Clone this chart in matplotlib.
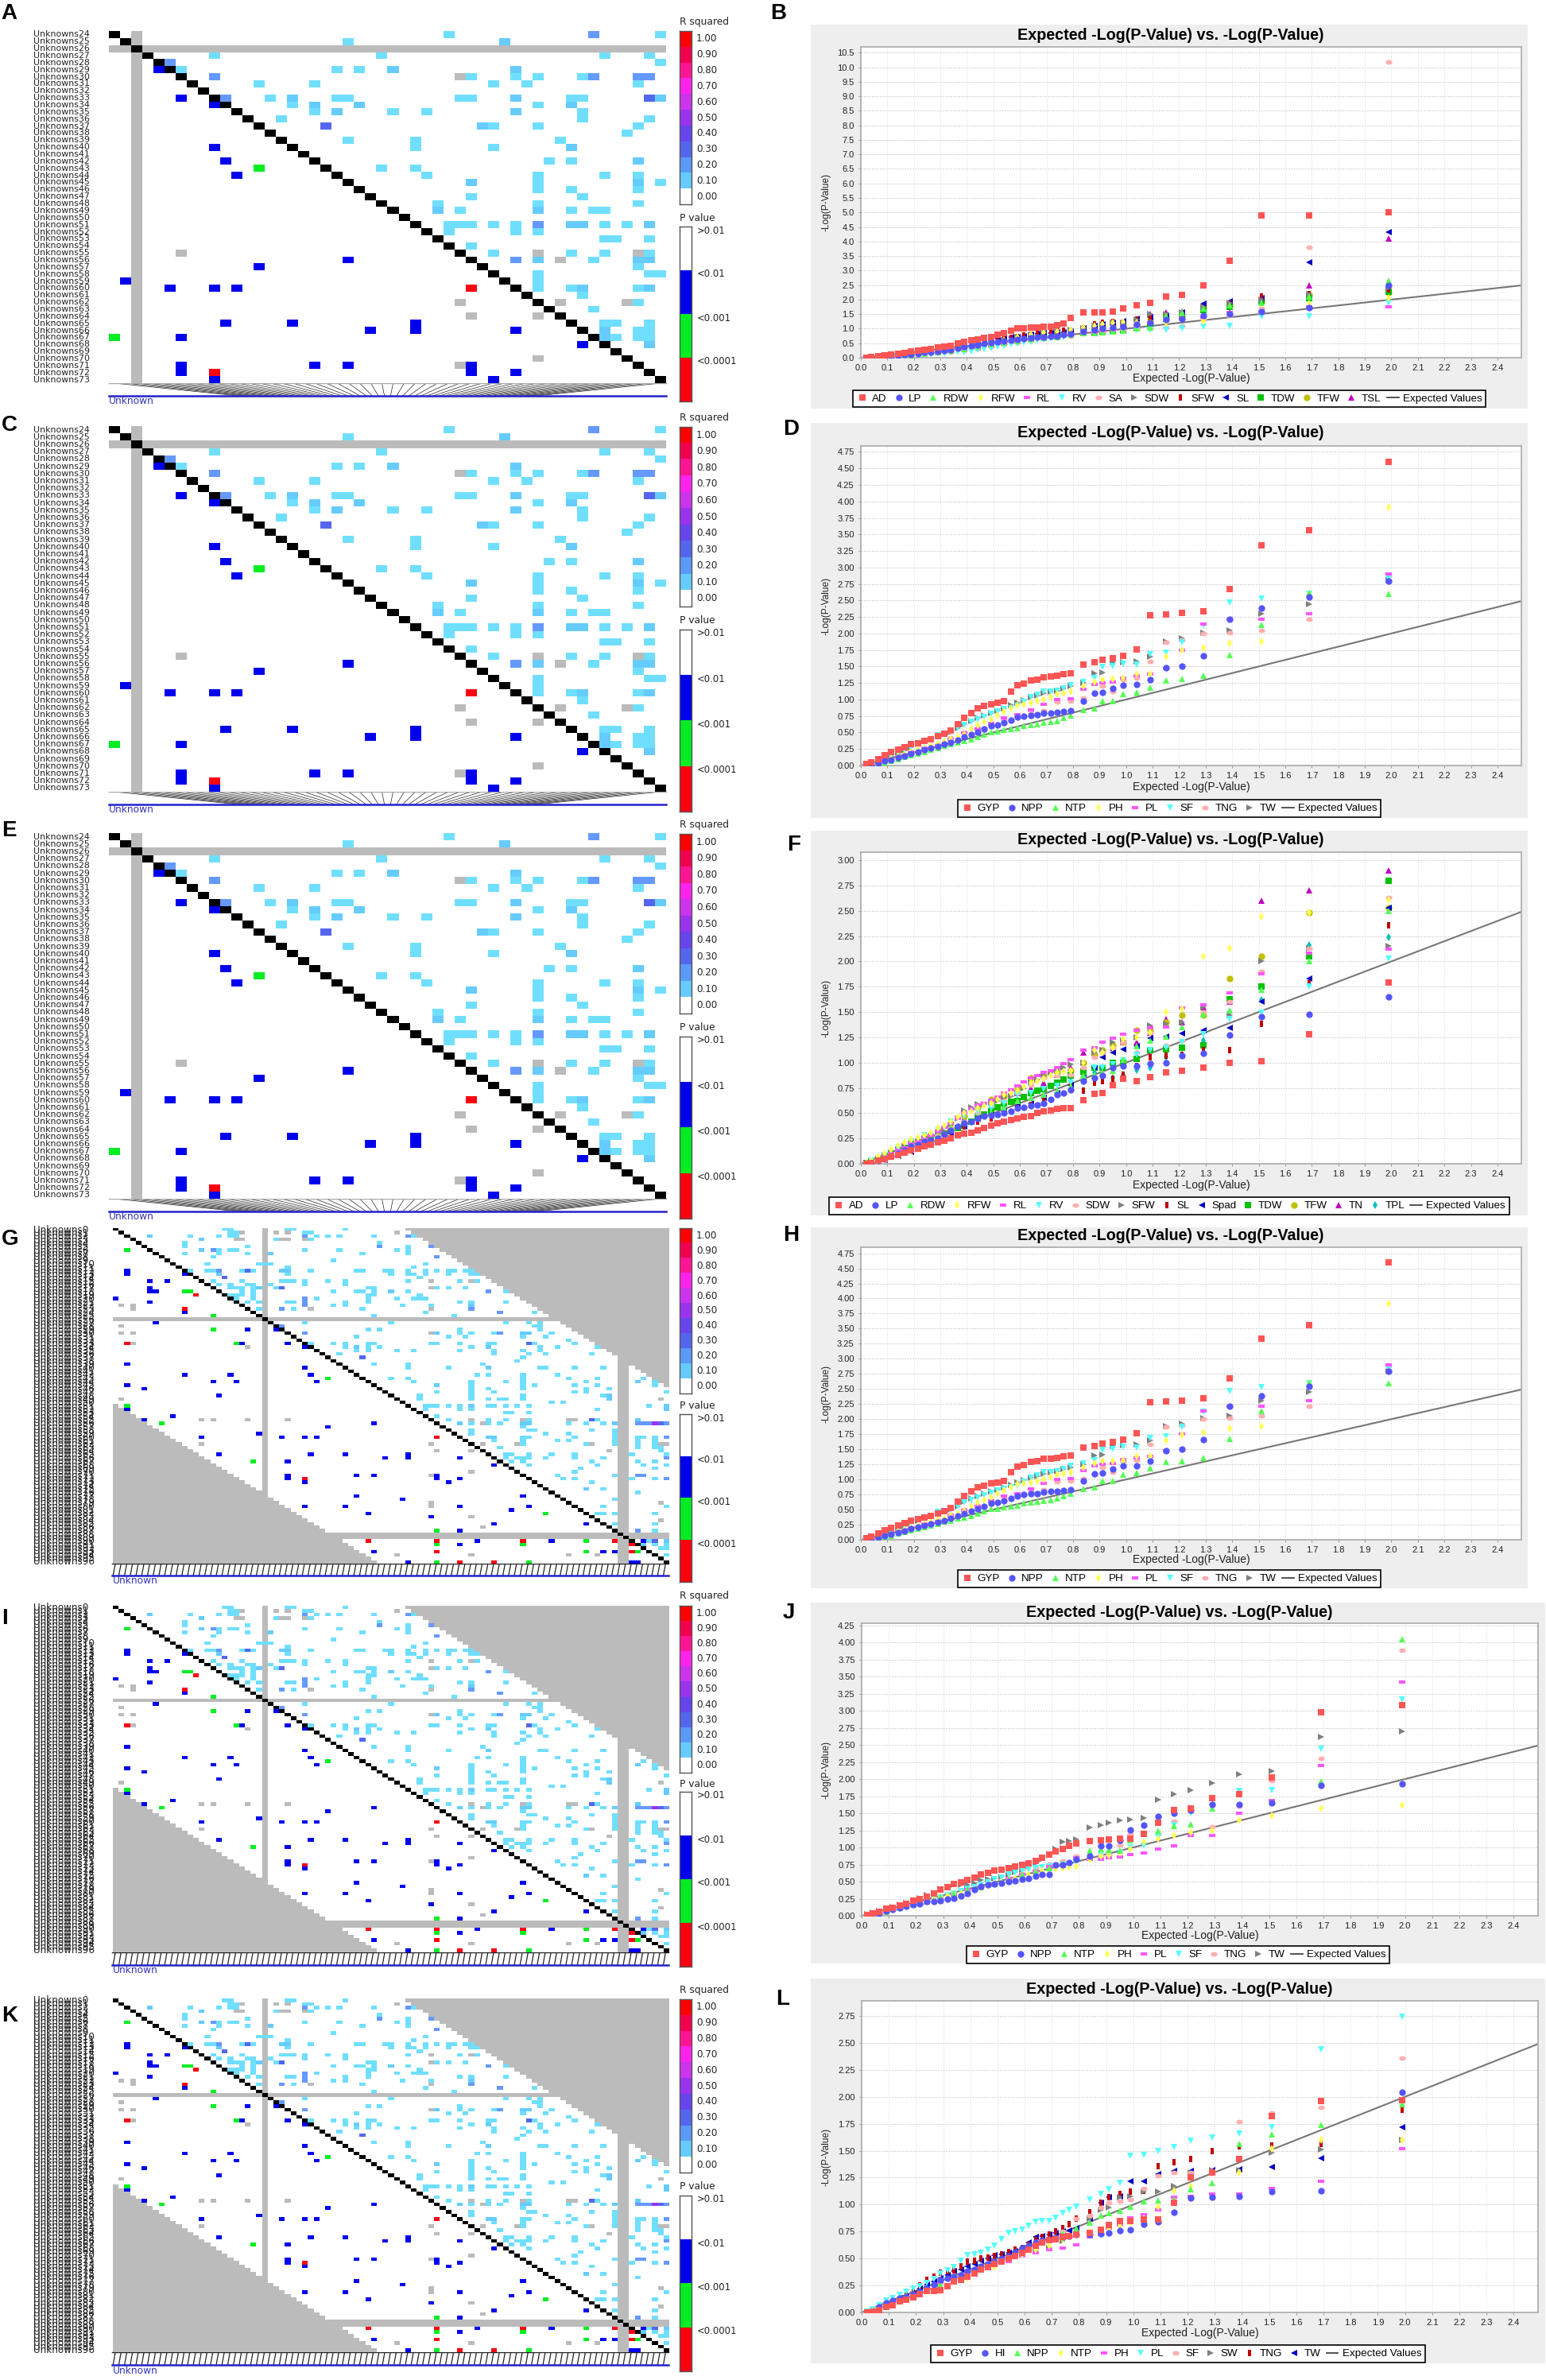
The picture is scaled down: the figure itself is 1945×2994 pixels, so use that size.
import numpy as np
import matplotlib
matplotlib.use('Agg')
import matplotlib.pyplot as plt
from matplotlib.colors import ListedColormap
from matplotlib.markers import MarkerStyle
from matplotlib.transforms import Affine2D

W, H = 1945, 2994

# expected -log(p), same ranks for every QQ panel
expected = [1.99, 1.69, 1.51, 1.39, 1.29, 1.21, 1.15, 1.09, 1.04, 0.99, 0.95, 0.91, 0.88, 0.84, 0.79,
            0.74, 0.69, 0.64, 0.59, 0.54, 0.49, 0.44, 0.39, 0.34, 0.29, 0.24, 0.19, 0.14, 0.09, 0.04]
# extra ranks in the crowded low end, read only for the series that show there
expected_mid = [0.765, 0.715, 0.665, 0.615, 0.565, 0.515, 0.465, 0.415, 0.365, 0.315, 0.265, 0.215, 0.165, 0.115, 0.065, 0.02]

panel_b = {
    'AD': [5.02, 4.9, 4.9, 3.35, 2.5, 2.15, 2.1, 1.9, 1.8, 1.7, 1.58, 1.57, 1.55, 1.55, 1.36, 1.12, 1.08, 1.03, 1.0, .85, .72, .64, .55, .42, .35, .28, .22, .13, .07, .02],
    'LP': [2.5, 1.72, 1.58, 1.5, 1.45, 1.33, 1.3, 1.2, 1.15, 1.08, 1.05, 1.0, .95, .9, .82, .75, .72, .68, .63, .58, .52, .45, .37, .28, .23, .18, .12, .08, .04, .01],
    'RDW': [2.65, 2.1, 1.9, 1.8, 1.7, 1.55, 1.45, 1.05, 1.0, .92, .9, .88, .85, .85, .8, .72, .68, .62, .58, .52, .46, .38, .3, .25, .2, .15, .08, .03, 0, 0],
    'RFW': [2.05, 1.85, 1.6, 1.45, 1.25, 1.4, 1.2, 1.2, 1.2, 1.22, 1.2, 1.15, 1.1, 1.03, .95, .9, .87, .8, .72, .6, .55, .45, .35, .3, .25, .18, .13, .1, .05, .02],
    'RL': [1.75, 1.75, 1.6, 1.55, 1.4, 1.35, 1.3, 1.2, 1.1, 1.05, .95, .92, .88, .85, .78, .72, .66, .6, .55, .5, .42, .35, .28, .22, .18, .13, .08, .05, .02, 0],
    'RV': [1.9, 1.42, 1.42, 1.1, 1.07, 1.02, .97, .95, .95, .93, .9, .88, .85, .82, .76, .68, .63, .55, .5, .42, .34, .26, .2, .18, .13, .1, .06, .02, 0, 0],
    'SA': [10.17, 3.8, 1.7, 1.45, 1.3, 1.1, 1.05, 1.0, 1.0, .95, .95, .9, .88, .85, .75, .7, .65, .6, .52, .47, .38, .3, .25, .2, .16, .12, .08, .05, .02, .01],
    'SDW': [2.4, 2.2, 2.0, 1.9, 1.75, 1.55, 1.5, 1.5, 1.3, 1.2, 1.2, 1.15, 1.1, 1.0, .95, .9, .85, .78, .7, .6, .53, .47, .38, .33, .28, .22, .17, .12, .06, .02],
    'SFW': [2.35, 2.2, 2.1, 1.85, 1.7, 1.5, 1.45, 1.4, 1.3, 1.2, 1.22, 1.2, 1.15, 1.0, .93, .9, .88, .8, .72, .65, .6, .55, .48, .4, .3, .22, .17, .12, .06, .02],
    'SL': [4.33, 3.28, 2.05, 1.95, 1.85, 1.55, 1.45, 1.4, 1.35, 1.25, 1.2, 1.15, 1.1, 1.0, .9, .87, .85, .78, .72, .68, .62, .58, .55, .42, .3, .23, .2, .12, .06, .02],
    'TDW': [2.28, 2.05, 1.95, 1.75, 1.65, 1.5, 1.35, 1.1, 1.0, .95, .92, .9, .88, .85, .8, .75, .72, .65, .6, .52, .46, .4, .32, .27, .23, .18, .13, .1, .05, .01],
    'TFW': [2.25, 2.15, 1.95, 1.8, 1.75, 1.45, 1.4, 1.3, 1.15, 1.15, 1.15, 1.1, 1.05, .95, .9, .85, .8, .73, .67, .6, .55, .47, .38, .33, .27, .21, .16, .11, .05, .02],
    'TSL': [4.1, 2.5, 2.1, 1.55, 1.48, 1.6, 1.55, 1.5, 1.2, 1.1, 1.1, 1.05, 1.0, .93, .88, .85, .8, .75, .7, .62, .55, .5, .42, .35, .3, .24, .18, .12, .06, .02],
}
mid_b = {
    'AD': [1.18, 1.08, 1.05, 1.02, .93, .78, .68, .6, .48, .38, .31, .25, .17, .1, .05, .01],
    'LP': [.78, .73, .7, .65, .6, .55, .48, .41, .32, .25, .2, .15, .1, .06, .02, 0],
    'RV': [.72, .65, .59, .52, .46, .38, .3, .23, .19, .15, .11, .08, .04, .01, 0, 0],
    'SFW': [.92, .89, .84, .76, .68, .62, .57, .52, .44, .35, .26, .2, .14, .09, .04, .01],
    'SL': [.88, .86, .82, .75, .7, .65, .6, .57, .48, .36, .27, .21, .16, .09, .04, .01],
}

panel_d = {
    'GYP': [4.6, 3.56, 3.33, 2.67, 2.34, 2.31, 2.29, 2.28, 1.76, 1.66, 1.62, 1.6, 1.56, 1.53, 1.4, 1.36, 1.34, 1.29, 1.21, .98, .93, .87, .72, .53, .44, .37, .32, .24, .16, .05],
    'NPP': [2.79, 2.55, 2.38, 2.22, 1.66, 1.5, 1.48, 1.3, 1.23, 1.22, 1.17, 1.11, 1.1, .98, .83, .81, .79, .76, .73, .65, .6, .51, .43, .35, .29, .24, .18, .12, .07, .01],
    'NTP': [2.6, 2.61, 2.13, 1.67, 1.36, 1.31, 1.29, 1.18, 1.11, 1.08, .98, .98, .87, .84, .76, .68, .65, .62, .57, .54, .51, .43, .37, .32, .27, .21, .16, .1, .05, 0],
    'PH': [3.91, 2.6, 1.88, 1.85, 1.78, 1.74, 1.65, 1.39, 1.38, 1.32, 1.31, 1.3, 1.27, 1.2, 1.12, 1.08, 1.0, .95, .92, .82, .7, .62, .47, .4, .33, .27, .21, .14, .08, .02],
    'PL': [2.9, 2.3, 2.22, 2.22, 2.14, 1.75, 1.47, 1.39, 1.36, 1.33, 1.27, 1.25, 1.23, 1.15, 1.01, 1.0, .93, .84, .77, .72, .64, .55, .49, .4, .3, .26, .2, .13, .08, .02],
    'SF': [2.83, 2.6, 2.53, 2.47, 2.12, 1.87, 1.71, 1.69, 1.53, 1.54, 1.5, 1.49, 1.32, 1.27, 1.22, 1.13, 1.12, 1.03, .9, .85, .78, .7, .62, .5, .46, .35, .27, .19, .11, .04],
    'TNG': [2.88, 2.21, 2.05, 2.01, 2.0, 1.9, 1.87, 1.58, 1.32, 1.3, 1.12, 1.2, 1.1, 1.02, .97, .96, .83, .8, .74, .7, .6, .57, .5, .42, .33, .27, .2, .13, .08, .02],
    'TW': [2.8, 2.45, 2.3, 2.05, 2.01, 1.93, 1.88, 1.65, 1.58, 1.57, 1.56, 1.41, 1.4, 1.25, 1.2, 1.13, 1.1, 1.03, .95, .87, .8, .72, .63, .5, .44, .37, .28, .18, .1, .03],
}
mid_d = {
    'GYP': [1.38, 1.35, 1.3, 1.24, 1.12, .95, .9, .8, .63, .48, .4, .34, .28, .2, .1, .02],
    'NPP': [.82, .8, .77, .75, .69, .62, .55, .47, .39, .32, .27, .21, .15, .09, .04, 0],
    'NTP': [.72, .66, .63, .6, .55, .52, .47, .4, .35, .3, .24, .18, .13, .07, .02, 0],
    'PH': [1.1, 1.04, .98, .93, .87, .76, .66, .55, .43, .36, .3, .24, .17, .11, .05, .01],
    'SF': [1.17, 1.12, 1.07, .96, .87, .82, .74, .66, .56, .48, .4, .31, .23, .15, .07, .01],
    'TW': [1.17, 1.12, 1.06, .99, .91, .83, .76, .68, .56, .47, .4, .32, .23, .14, .06, .01],
}

panel_f = {
    'AD': [1.79, 1.28, 1.01, 1.0, .95, .92, .9, .86, .82, .84, .78, .7, .69, .63, .55, .54, .52, .47, .45, .42, .38, .33, .3, .25, .21, .17, .13, .09, .05, .01],
    'LP': [1.65, 1.48, 1.45, 1.27, 1.09, 1.07, 1.0, .99, .97, .97, .95, .87, .85, .82, .73, .68, .6, .57, .55, .5, .48, .45, .4, .33, .25, .22, .17, .1, .05, .01],
    'RDW': [2.5, 2.0, 1.72, 1.52, 1.48, 1.35, 1.26, 1.22, 1.16, 1.03, .92, .9, .88, .87, .77, .72, .68, .65, .62, .56, .5, .46, .42, .35, .27, .21, .16, .11, .06, .01],
    'RFW': [2.61, 2.48, 2.44, 2.13, 2.05, 1.53, 1.5, 1.3, 1.25, 1.23, 1.15, 1.1, 1.12, 1.0, .92, .9, .84, .8, .72, .68, .6, .55, .5, .42, .35, .28, .24, .18, .1, .03],
    'RL': [2.12, 2.08, 1.88, 1.69, 1.57, 1.54, 1.35, 1.34, 1.32, 1.28, 1.24, 1.2, 1.15, 1.12, 1.03, .95, .9, .85, .77, .7, .63, .58, .5, .4, .32, .25, .2, .13, .07, .02],
    'RV': [2.03, 1.75, 1.49, 1.43, 1.28, 1.2, 1.15, 1.12, 1.08, 1.02, .98, .95, .95, .83, .8, .77, .74, .7, .68, .6, .55, .52, .47, .42, .33, .28, .22, .15, .09, .03],
    'SDW': [2.63, 2.13, 1.9, 1.6, 1.5, 1.22, 1.17, 1.3, 1.1, 1.2, 1.15, 1.1, 1.05, .95, .88, .87, .85, .78, .7, .62, .57, .5, .42, .35, .28, .22, .18, .12, .06, .02],
    'SFW': [2.15, 2.13, 2.0, 1.47, 1.55, 1.4, 1.38, 1.37, 1.25, 1.22, 1.2, 1.12, 1.1, 1.0, .98, .93, .87, .8, .7, .65, .6, .59, .53, .37, .28, .25, .2, .14, .08, .02],
    'SL': [2.36, 1.78, 1.38, 1.12, 1.12, 1.08, 1.07, 1.05, .97, .88, .84, .82, .8, .72, .78, .7, .65, .58, .55, .5, .45, .42, .37, .32, .27, .22, .17, .12, .07, .02],
    'Spad': [2.53, 1.83, 1.6, 1.34, 1.32, 1.29, 1.26, 1.24, 1.16, 1.13, 1.1, 1.05, .95, .85, .78, .7, .65, .6, .57, .52, .48, .45, .37, .3, .22, .17, .12, .08, .04, 0],
    'TDW': [2.8, 2.05, 1.75, 1.63, 1.17, 1.15, 1.13, 1.12, 1.04, 1.0, 1.0, .95, .95, .91, .87, .8, .74, .7, .62, .6, .52, .47, .38, .33, .28, .24, .19, .13, .07, .02],
    'TFW': [2.53, 2.48, 2.05, 1.83, 1.47, 1.47, 1.4, 1.32, 1.32, 1.2, 1.17, 1.12, 1.08, 1.0, .92, .9, .87, .85, .75, .67, .64, .55, .47, .4, .33, .27, .22, .15, .09, .02],
    'TN': [2.9, 2.7, 2.6, 1.6, 1.55, 1.4, 1.43, 1.3, 1.2, 1.2, 1.15, 1.12, 1.1, 1.1, .95, .88, .8, .75, .7, .62, .57, .5, .45, .37, .3, .24, .2, .14, .08, .02],
    'TPL': [2.24, 2.16, 1.62, 1.5, 1.22, 1.15, 1.05, .95, .93, .88, .85, .95, .9, .88, .82, .7, .72, .68, .63, .55, .5, .47, .42, .36, .3, .25, .2, .13, .06, .01],
}
mid_f = {
    'AD': [.55, .53, .5, .46, .43, .4, .35, .31, .28, .23, .19, .15, .11, .07, .03, 0],
    'LP': [.7, .64, .58, .56, .52, .49, .47, .42, .37, .29, .23, .19, .13, .08, .03, 0],
    'RFW': [.91, .87, .82, .76, .7, .64, .57, .52, .46, .38, .31, .26, .21, .14, .07, .01],
    'RL': [.99, .92, .87, .81, .73, .66, .6, .54, .45, .36, .28, .22, .16, .1, .04, .01],
    'SFW': [.95, .9, .83, .75, .67, .62, .59, .56, .45, .32, .26, .22, .17, .11, .05, .01],
    'TDW': [.83, .77, .72, .66, .61, .56, .49, .42, .35, .3, .26, .21, .16, .1, .04, .01],
}

panel_j = {
    'GYP': [3.08, 2.98, 2.02, 1.78, 1.72, 1.57, 1.55, 1.36, 1.2, 1.13, 1.13, 1.12, 1.1, 1.09, 1.06, .98, .9, .8, .75, .7, .66, .6, .52, .47, .38, .28, .22, .15, .1, .03],
    'NPP': [1.93, 1.91, 1.65, 1.63, 1.63, 1.55, 1.5, 1.45, 1.33, 1.26, 1.1, 1.02, 1.02, .87, .83, .75, .61, .58, .53, .5, .47, .43, .32, .26, .22, .21, .16, .12, .07, 0],
    'NTP': [4.05, 1.97, 1.66, 1.8, 1.57, 1.34, 1.32, 1.25, 1.2, 1.1, .95, .97, .98, .95, .83, .77, .7, .65, .6, .54, .47, .42, .38, .32, .28, .22, .16, .12, .06, .01],
    'PH': [1.62, 1.57, 1.46, 1.39, 1.24, 1.22, 1.18, 1.13, 1.08, .98, .92, .88, .87, .83, .72, .7, .68, .63, .58, .52, .47, .41, .36, .31, .27, .21, .16, .12, .06, .01],
    'PL': [3.42, 2.2, 1.69, 1.5, 1.17, 1.17, 1.02, .98, .92, .9, .86, .85, .82, .82, .85, .75, .72, .65, .6, .55, .47, .4, .38, .3, .25, .19, .15, .11, .06, .01],
    'SF': [3.16, 2.44, 1.84, 1.83, 1.7, 1.5, 1.33, 1.15, 1.02, 1.0, .92, .9, .88, .85, .78, .75, .72, .7, .66, .6, .53, .45, .4, .32, .27, .2, .15, .11, .06, .01],
    'TNG': [3.88, 2.3, 1.98, 1.6, 1.3, 1.52, 1.38, 1.2, 1.22, 1.2, 1.04, .9, .88, .85, .87, .8, .76, .7, .62, .55, .48, .43, .37, .34, .28, .22, .16, .11, .06, .01],
    'TW': [2.7, 2.62, 2.12, 2.07, 1.94, 1.84, 1.78, 1.7, 1.43, 1.41, 1.39, 1.36, 1.33, 1.29, 1.12, 1.08, .88, .77, .68, .6, .55, .52, .45, .45, .39, .3, .22, .16, .1, .05],
}
mid_j = {
    'GYP': [1.02, .94, .85, .77, .72, .68, .63, .56, .49, .42, .33, .25, .18, .12, .06, .01],
    'NPP': [.78, .74, .6, .55, .51, .48, .45, .38, .29, .24, .21, .18, .14, .09, .03, 0],
    'PH': [.71, .69, .66, .6, .55, .49, .44, .38, .33, .29, .24, .18, .14, .09, .03, 0],
    'SF': [.76, .73, .71, .68, .63, .56, .49, .42, .36, .3, .23, .17, .13, .08, .03, 0],
    'TW': [1.09, .98, .82, .72, .64, .57, .53, .48, .45, .42, .34, .26, .19, .13, .07, .02],
}

panel_l = {
    'GYP': [1.97, 1.96, 1.82, 1.42, 1.3, 1.25, 1.02, .86, .86, .85, .85, .81, .77, .74, .72, .7, .67, .62, .55, .5, .45, .4, .33, .29, .21, .2, .14, .1, .05, .01],
    'HI': [2.04, 1.13, 1.12, 1.08, 1.07, 1.06, .93, .84, .82, .77, .76, .74, .73, .72, .72, .7, .68, .65, .6, .52, .47, .43, .38, .33, .3, .22, .17, .13, .09, .01],
    'NPP': [1.93, 1.74, 1.65, 1.56, 1.2, 1.14, 1.05, 1.04, 1.03, .98, .94, .92, .9, .83, .78, .73, .68, .63, .55, .5, .47, .42, .38, .3, .26, .2, .16, .12, .07, .01],
    'NTP': [1.6, 1.6, 1.52, 1.3, 1.3, 1.17, 1.13, .98, .87, .83, .8, .78, .77, .75, .72, .68, .62, .58, .54, .5, .42, .4, .32, .3, .25, .2, .16, .1, .05, .01],
    'PH': [1.52, 1.22, 1.15, 1.1, 1.1, 1.08, 1.07, .95, .91, .88, .81, .78, .72, .7, .63, .6, .58, .55, .52, .47, .45, .4, .36, .32, .28, .21, .16, .12, .05, .01],
    'PL': [2.74, 2.44, 1.72, 1.66, 1.62, 1.59, 1.53, 1.5, 1.46, 1.45, 1.2, 1.14, 1.1, 1.05, .98, .92, .85, .84, .77, .74, .62, .55, .53, .42, .36, .27, .22, .16, .11, .03],
    'SF': [2.36, 1.9, 1.85, 1.77, 1.3, 1.3, 1.3, 1.27, 1.15, 1.05, 1.03, 1.02, .97, .9, .87, .75, .68, .6, .55, .52, .45, .4, .38, .34, .28, .22, .17, .12, .06, .01],
    'SW': [1.6, 1.51, 1.48, 1.32, 1.32, 1.3, 1.17, 1.12, 1.12, 1.08, 1.07, .97, .95, .87, .72, .66, .6, .57, .55, .5, .48, .42, .37, .33, .26, .22, .17, .12, .07, .01],
    'TNG': [1.88, 1.56, 1.55, 1.54, 1.5, 1.42, 1.39, 1.36, 1.13, 1.12, 1.1, 1.07, 1.02, .93, .87, .78, .72, .67, .6, .56, .52, .5, .47, .39, .37, .3, .2, .12, .07, .01],
    'TW': [1.72, 1.43, 1.35, 1.33, 1.32, 1.31, 1.31, 1.28, 1.22, 1.22, 1.08, 1.07, 1.02, .87, .78, .75, .72, .7, .6, .55, .53, .48, .43, .38, .32, .26, .18, .13, .07, .01],
}
mid_l = {
    'GYP': [.71, .68, .65, .58, .52, .47, .42, .36, .3, .24, .2, .17, .12, .07, .02, 0],
    'HI': [.71, .69, .67, .62, .56, .5, .45, .4, .35, .32, .26, .19, .15, .11, .05, 0],
    'PL': [.95, .88, .85, .8, .75, .68, .58, .54, .48, .39, .31, .24, .19, .13, .07, .01],
    'TNG': [.82, .75, .7, .63, .58, .54, .51, .48, .43, .38, .33, .25, .16, .09, .04, 0],
    'TW': [.76, .74, .71, .65, .57, .54, .5, .45, .4, .35, .29, .22, .15, .1, .04, 0],
}

# LD matrix A/C/E, row: [columns] for each colour class
a_r10 = {0: [30, 49], 1: [21], 3: [9, 24, 44, 48], 4: [49], 5: [6, 20, 22], 6: [32, 36, 38, 42], 7: [13, 18, 34, 37, 47],
         9: [14, 20, 21, 31, 32, 41, 42], 10: [16, 38], 11: [18, 25, 28, 42], 12: [15, 42, 48], 13: [34, 38, 47], 14: [46],
         15: [21, 27, 40], 16: [27, 34], 18: [39, 41], 19: [24, 27], 20: [28, 38, 44, 47], 21: [38, 49], 22: [38, 41, 47],
         23: [32, 42], 24: [29, 38, 47], 25: [31, 41, 43, 44], 27: [30, 31, 32, 34, 36, 44, 46], 28: [30, 36, 38],
         29: [44, 45, 48], 30: [32], 31: [34, 41, 44, 48], 32: [43], 33: [47], 34: [38, 48, 49], 35: [38], 36: [38, 41, 47],
         37: [42], 38: [47], 39: [43], 41: [44, 45, 48], 42: [47, 48], 43: [45, 47, 48]}
a_r15 = {1: [35], 5: [25, 36], 9: [16, 36, 49], 10: [18, 22, 41], 11: [20, 36], 13: [33], 16: [41], 18: [47], 21: [32, 47],
         25: [29, 38], 27: [41, 42, 48], 32: [38, 47, 48], 36: [42, 48], 42: [44], 43: [44], 44: [48]}
a_r20 = {0: [43], 4: [5], 6: [9, 43, 47, 48], 9: [10], 27: [38], 32: [36]}
a_r30 = {9: [48], 13: [19]}
a_blue = {5: [4], 9: [6], 10: [9], 16: [9], 18: [10], 20: [11], 32: [21], 33: [13], 35: [1], 36: [5, 9, 11], 41: [10, 16, 27],
          42: [23, 27, 36], 43: [6], 44: [42], 47: [6, 18, 21, 32], 48: [6, 32, 36], 49: [9, 34]}
a_green = {19: [13], 43: [0]}
a_red = {36: [32], 48: [9]}
a_gray = {6: [31], 31: [6, 38, 47], 32: [40], 38: [31, 40, 46], 40: [32, 38], 46: [38], 47: [31]}

# LD matrix G/I/K
g_r10 = {0: [19, 20, 30, 31, 40], 1: [20, 21, 33, 34], 2: [13, 18, 20, 21, 35, 37, 39, 45, 52], 3: [28, 34], 4: [12, 46], 5: [12, 23, 51],
         6: [18, 20, 21, 33, 39, 49, 51], 7: [12, 18, 23, 43, 51], 8: [17], 9: [38], 10: [16, 25, 26, 27, 54], 11: [30, 52],
         12: [13, 16, 17, 22, 24, 34, 42, 43, 47, 48, 51, 54, 56, 58, 59, 61, 62], 13: [13, 30, 48, 51, 52, 54, 58, 62, 63], 14: [53],
         15: [17, 22, 29, 30, 31, 33, 37, 40, 51, 60, 63], 16: [18, 20, 23, 24, 27, 33, 40], 17: [20, 21, 22, 24, 28, 44, 45, 56, 58, 61],
         18: [22, 24, 38, 42, 43, 45, 51, 68], 19: [20, 21, 22, 24, 44, 45, 53], 20: [21, 24, 35, 44, 49, 52, 53, 54],
         21: [23, 25, 30, 31, 40, 44, 60, 62, 68], 22: [38, 40, 50, 55], 23: [25, 31, 43], 24: [54, 73], 25: [45, 59], 27: [33, 48, 68, 72, 74],
         28: [73, 74], 29: [44, 46, 60, 74], 30: [60, 62, 66, 76], 31: [42, 58, 61, 71, 75], 32: [79],
         33: [34, 38, 40, 44, 45, 55, 56, 60, 65, 66, 73, 80], 34: [34, 40, 44, 46, 62, 74, 77, 84], 35: [42, 44, 49, 52, 60, 66, 71, 74],
         36: [39, 66, 72, 75, 83], 37: [71], 38: [70], 39: [45, 51, 64], 40: [51, 58, 74, 75, 80, 85], 42: [63, 65, 71, 77],
         43: [48, 51, 71, 79, 84, 92], 44: [52, 62, 68, 71, 82, 94], 45: [62, 71, 73, 80, 84, 94], 46: [62, 65, 71, 82, 86],
         47: [56, 62, 66, 80, 82, 96], 48: [53, 62, 71, 85], 49: [53, 62, 65, 67, 68, 71], 50: [76, 78],
         51: [54, 55, 56, 58, 60, 65, 66, 68, 70, 72, 93], 52: [54, 60, 62, 84], 53: [68, 69, 72], 54: [56], 55: [58, 65, 68, 71, 72, 84, 91],
         56: [62, 65, 67, 79, 82, 85], 57: [71], 58: [62, 72, 73, 83, 87], 59: [62, 75, 79, 87], 60: [71, 72, 80, 87, 91, 92, 94],
         61: [66, 71, 77, 79, 87, 91, 94], 62: [71, 82, 87, 91, 94], 63: [67, 91, 94, 95], 64: [95], 65: [68, 69, 72, 76, 80, 90, 96],
         66: [68, 70, 71, 72, 75, 80, 85], 67: [69, 71, 83, 91, 94], 68: [72, 84, 92, 96], 69: [81, 94], 70: [80], 71: [77, 87],
         72: [78, 80, 90, 94], 73: [83], 75: [85], 76: [91], 78: [87], 80: [85, 96], 82: [84, 85, 87, 94], 85: [87, 94], 87: [94],
         90: [93], 91: [94, 96], 92: [95, 96], 94: [96]}
g_r15 = {2: [6], 3: [15], 6: [15], 7: [27], 12: [29, 30], 13: [18], 17: [25], 18: [48], 22: [62], 30: [56, 71, 72], 34: [42, 65], 40: [65],
         44: [91], 45: [56], 48: [86], 49: [86], 51: [62, 96], 52: [96], 55: [91], 56: [60, 71, 72, 87], 60: [65, 66],
         75: [82], 90: [96], 91: [92]}
g_r20 = {2: [33, 51], 5: [46, 55], 6: [17], 8: [56], 12: [18], 18: [65], 20: [33], 21: [33], 22: [33], 23: [29, 62], 24: [67], 28: [29],
         30: [33, 67], 56: [91, 92, 93, 96], 60: [96], 66: [96], 71: [91, 92], 72: [96], 87: [91]}
g_r30 = {12: [23], 14: [19], 17: [29], 33: [72], 37: [43], 55: [83], 56: [95], 90: [94]}
g_r50 = {56: [94]}
g_blue = {12: [2, 12], 13: [2, 12], 15: [6, 9], 17: [6], 18: [6, 7], 20: [0], 21: [6], 24: [12], 27: [7], 29: [23, 28], 33: [22, 30], 34: [33],
          39: [2], 40: [33], 42: [12, 20, 34], 44: [17, 21, 35], 45: [2], 46: [5], 48: [18], 52: [2], 54: [10], 55: [5], 56: [45], 57: [37],
          59: [25], 60: [15, 29, 33, 35], 65: [18, 34, 40, 51], 66: [47, 51, 60], 67: [30], 68: [66], 71: [30, 42, 45, 56], 72: [30, 56, 60],
          73: [33, 58], 77: [42, 71], 78: [50], 80: [33, 40, 60, 72], 81: [69], 82: [44], 83: [55], 85: [66, 82], 87: [60], 90: [63, 76, 92],
          91: [60], 93: [45, 85, 87], 96: [51, 90, 91]}
g_green = {6: [2], 18: [12, 13], 25: [17], 29: [17], 33: [21], 43: [37], 51: [2], 56: [8], 67: [24], 82: [75], 87: [56], 90: [82],
           91: [56, 71], 93: [82, 91], 96: [56, 72]}
g_red = {19: [14], 23: [12], 33: [2], 60: [56], 72: [33], 90: [44, 56, 71, 87], 91: [90], 93: [56, 90], 96: [60, 66]}
g_gray = {1: [22, 28, 30, 49], 3: [21, 22, 29, 30, 33], 15: [55, 62], 17: [55], 22: [1, 3], 23: [3, 34, 55], 28: [1], 30: [1, 3, 55], 33: [3],
          34: [23], 49: [1, 95], 55: [15, 17, 23, 30, 62, 71, 79, 80], 56: [64], 62: [15, 55, 64, 70, 83, 95, 96], 64: [56, 62, 86],
          70: [62], 71: [55], 79: [55, 95], 80: [55], 83: [62], 84: [95], 86: [64], 94: [49, 62, 79, 84]}

cell_colors = ['#FFFFFF', '#70DFFF', '#66CCFF', '#6699FF', '#5566EE', '#9933EE', '#0000EE', '#00EE22', '#FF0011', '#BBBBBB', '#000000']
r2_colors = ['#FF0000', '#F2004F', '#FF1493', '#FF22EE', '#CC33EE', '#9933EE', '#6644EE', '#5566EE', '#5A9AFA', '#66CCFF', '#FFFFFF']
r2_labels = ['1.00', '0.90', '0.80', '0.70', '0.60', '0.50', '0.40', '0.30', '0.20', '0.10', '0.00']
p_colors = ['#FFFFFF', '#0000EE', '#00EE22', '#FF0011']
p_labels = ['>0.01', '<0.01', '<0.001', '<0.0001']

series_colors = ['#FF5555', '#5555FF', '#55FF55', '#FFFF55', '#FF55FF', '#55FFFF', '#FFAFAF', '#808080',
                 '#C00000', '#0000C0', '#00C000', '#C0C000', '#C000C0', '#00C0C0']
hbar = MarkerStyle('s', transform=Affine2D().scale(1, 0.55))
vbar = MarkerStyle('s', transform=Affine2D().scale(0.45, 1))
hell = MarkerStyle('o', transform=Affine2D().scale(1, 0.7))
series_markers = ['s', 'o', '^', 'd', hbar, 'v', hell, '>', vbar, '<', 's', 'o', '^', 'd']

plt.rcParams['font.family'] = ['Liberation Sans', 'DejaVu Sans']
fig = plt.figure(figsize=(W / 100, H / 100), dpi=100, facecolor='white')

# full page axes in pixels, for titles, row names, backgrounds
page = fig.add_axes([0, 0, 1, 1])
page.set_xlim(0, W)
page.set_ylim(H, 0)
page.axis('off')


def px_axes(x0, y0, x1, y1):
    return fig.add_axes([x0 / W, 1 - y1 / H, (x1 - x0) / W, (y1 - y0) / H])


def fill(m, table, code):
    for r, cols in table.items():
        for c in cols:
            m[r, c] = code


def matrix_a():
    m = np.zeros((50, 50), dtype=int)
    m[2, :] = 9
    m[:, 2] = 9
    for code, table in [(1, a_r10), (2, a_r15), (3, a_r20), (4, a_r30), (6, a_blue), (7, a_green), (8, a_red), (9, a_gray)]:
        fill(m, table, code)
    m[np.arange(50), np.arange(50)] = 10
    return m


def matrix_g():
    m = np.zeros((97, 97), dtype=int)
    rows, cols = np.indices(m.shape)
    m[np.abs(cols - rows) >= 51] = 9
    m[26, :77] = 9
    m[:77, 26] = 9
    m[88:90, 37:] = 9
    m[37:, 88:90] = 9
    for code, table in [(1, g_r10), (2, g_r15), (3, g_r20), (4, g_r30), (5, g_r50), (6, g_blue), (7, g_green), (8, g_red), (9, g_gray)]:
        fill(m, table, code)
    m[np.arange(97), np.arange(97)] = 10
    return m


def color_bar(colors, x0, y0, x1, y1):
    ax = px_axes(x0, y0, x1, y1)
    ax.imshow(np.arange(len(colors)).reshape(-1, 1), cmap=ListedColormap(colors), aspect='auto', interpolation='nearest')
    ax.set_xticks([])
    ax.set_yticks([])
    for s in ax.spines.values():
        s.set_color('#555555')
        s.set_linewidth(1.0)


def ld_panel(m, names, name_x, x0, y0, x1, y1, y_bot, fan, r_top, r_bot, p_lab_y, p_top, p_bot, r_lab_y):
    ax = px_axes(x0, y0, x1, y1)
    ax.imshow(m, cmap=ListedColormap(cell_colors), vmin=0, vmax=10, aspect='auto', interpolation='nearest')
    ax.axis('off')
    n = len(names)
    cw = (x1 - x0) / n
    ch = (y1 - y0) / n
    for i, name in enumerate(names):
        page.text(name_x, y0 + (i + 0.5) * ch, name, ha='left', va='center', fontsize=7.9 if n < 60 else 8.6,
                  family='DejaVu Sans', color='#222222')
    xs = x0 + (np.arange(n) + 0.5) * cw
    if fan:
        xc = (x0 + x1) / 2
        xb = xc + (xs - xc) * 0.546
        for a, b in zip(xs, xb):
            page.plot([a, b], [y1, y_bot], color='#222222', lw=0.5)
        page.plot([x0, x1], [y1, y1], color='#AAAAAA', lw=1)
    else:
        for a in xs:
            page.plot([a, a - 0.4 * cw], [y1, y_bot], color='#222222', lw=0.9)
        page.plot([x0, x1], [y1, y1], color='#222222', lw=1)
    page.plot([x0, x1], [y_bot, y_bot], color='#2222CC', lw=1.8)
    page.text(x0, y_bot + 7, 'Unknown', color='#3333BB', fontsize=8.8, family='DejaVu Sans', va='center')

    if r_lab_y is not None:
        page.text(855, r_lab_y, 'R squared', fontsize=8.8, family='DejaVu Sans', color='#222222', va='center')
    color_bar(r2_colors, 855, r_top, 870, r_bot)
    step = (r_bot - r_top) / 11
    for i, lab in enumerate(r2_labels):
        page.text(876, r_top + (i + 0.5) * step, lab, fontsize=8.6, family='DejaVu Sans', color='#222222', va='center')
    page.text(855, p_lab_y, 'P value', fontsize=8.8, family='DejaVu Sans', color='#222222', va='center')
    color_bar(p_colors, 855, p_top, 870, p_bot)
    step = (p_bot - p_top) / 4
    for i, lab in enumerate(p_labels):
        page.text(877, p_top + i * step + 5, lab, fontsize=8.4, family='DejaVu Sans', color='#222222', va='center')


def qq_panel(series, mid, bg, plot, ymax, ystep, title_y, xlabel_y, legend_xy, legend_fs=9.6):
    bx0, by0, bx1, by1 = bg
    px0, py0, px1, py1 = plot
    page.fill_between([bx0, bx1], by0, by1, color='#EEEEEE', lw=0)
    ax = px_axes(px0, py0, px1, py1)
    ax.set_facecolor('white')
    n = len(series)
    ax.plot([0, 2.49], [0, 2.49], color='#777777', lw=1.5, zorder=2)
    for i, (name, vals) in enumerate(series.items()):
        size = 5.2 if series_markers[i] == 'd' else 6.0
        ax.plot(expected, vals, ls='none', marker=series_markers[i], color=series_colors[i], ms=size, mew=0,
                zorder=3 + n - i, label=name)
        if name in mid:
            ax.plot(expected_mid, mid[name], ls='none', marker=series_markers[i], color=series_colors[i], ms=size, mew=0,
                    zorder=3 + n - i)
    ax.plot([], [], color='#444444', lw=1.3, label='Expected Values')
    ax.set_xlim(0, 2.49)
    ax.set_ylim(0, ymax)
    ax.set_xticks(np.arange(0, 2.45, 0.1))
    ax.set_yticks(np.arange(0, ymax, ystep))
    ax.xaxis.set_major_formatter('{x:.1f}')
    ax.yaxis.set_major_formatter('{x:.1f}' if ystep == 0.5 else '{x:.2f}')
    ax.tick_params(labelsize=8, length=2, width=0.6, color='#888888', labelcolor='#222222', pad=4)
    ax.grid(axis='y', color='#D0D0D0', ls=(0, (2, 1.5)), lw=0.7)
    ax.grid(axis='x', color='#E4E4E4', ls=(0, (2, 1.5)), lw=0.6)
    ax.set_axisbelow(True)
    for s in ax.spines.values():
        s.set_color('#AAAAAA')
        s.set_linewidth(1.2)
    page.text((px0 + px1) / 2, xlabel_y, 'Expected -Log(P-Value)', ha='center', va='center', fontsize=10, color='#222222')
    page.text(1040, (py0 + py1) / 2, '-Log(P-Value)', ha='center', va='center', rotation=90, fontsize=8.6, color='#222222')
    page.text(bx0 + (px1 - px0) * 0.545, title_y, 'Expected -Log(P-Value) vs. -Log(P-Value)', ha='center', va='center',
              fontsize=14.2, fontweight='bold', color='black')
    handles, labels = ax.get_legend_handles_labels()
    leg = ax.legend(handles, labels, loc='center', bbox_to_anchor=(legend_xy[0] / W, 1 - legend_xy[1] / H),
                    bbox_transform=fig.transFigure, ncol=n + 1, fontsize=legend_fs, numpoints=1, frameon=True, fancybox=False,
                    edgecolor='black', framealpha=1, borderpad=0.35, handlelength=1.1, handletextpad=0.4, columnspacing=0.55,
                    borderaxespad=0)
    leg.get_frame().set_linewidth(1.2)
    leg.set_zorder(20)


names_a = ['Unknowns%d' % i for i in range(24, 74)]
names_g = ['Unknowns%d' % i for i in range(97)]
mat_a = matrix_a()
mat_g = matrix_g()

ld_panel(mat_a, names_a, 42, 137, 39, 838, 482, 498, True, 39, 257, 274, 285, 505, 28)
ld_panel(mat_a, names_a, 42, 137, 536, 838, 996, 1012, True, 537, 763, 780, 792, 1021, 525)
ld_panel(mat_a, names_a, 42, 137, 1048, 838, 1508, 1524, True, 1049, 1275, 1292, 1304, 1533, 1037)
ld_panel(mat_g, names_g, 42, 141.5, 1545, 841, 1967, 1982, False, 1545, 1753, 1769, 1779, 1990, None)
ld_panel(mat_g, names_g, 42, 141.5, 2020, 841, 2456, 2472, False, 2020, 2230, 2244, 2254, 2474, 2008)
ld_panel(mat_g, names_g, 42, 141.5, 2514, 841, 2959, 2975, False, 2515, 2733, 2750, 2762, 2983, 2503)

qq_panel(panel_b, mid_b, (1020, 31, 1922, 514), (1083, 59, 1914, 450), 10.7, 0.5, 44, 476, (1471, 501.5))
qq_panel(panel_d, mid_d, (1020, 532, 1922, 1029), (1083, 561, 1914, 963), 4.84, 0.25, 545, 990, (1471, 1017))
qq_panel(panel_f, mid_f, (1020, 1045, 1922, 1529), (1083, 1072, 1914, 1464), 3.08, 0.25, 1057, 1491, (1471, 1517))
qq_panel(panel_d, mid_d, (1020, 1544, 1922, 1998), (1083, 1569, 1914, 1937), 4.85, 0.25, 1555, 1962, (1471, 1986))
qq_panel(panel_j, mid_j, (1020, 2016, 1944, 2470), (1084, 2042, 1935, 2410), 4.28, 0.25, 2028, 2435, (1482, 2459))
qq_panel(panel_l, mid_l, (1020, 2489, 1944, 2973), (1084, 2517, 1935, 2909), 2.89, 0.25, 2502, 2935, (1482, 2961))

letters = [('A', 1, 24), ('B', 969, 24), ('C', 2, 542), ('D', 985, 547), ('E', 2, 1052), ('F', 990, 1070),
           ('G', 2, 1566), ('H', 985, 1561), ('I', 2, 2043), ('J', 985, 2036), ('K', 2, 2543), ('L', 976, 2522)]
for t, x, y in letters:
    page.text(x, y, t, fontsize=20, fontweight='bold', ha='left', va='baseline', color='black')

page.set_xlim(0, W)
page.set_ylim(H, 0)
fig.savefig('out.png', dpi=100)
